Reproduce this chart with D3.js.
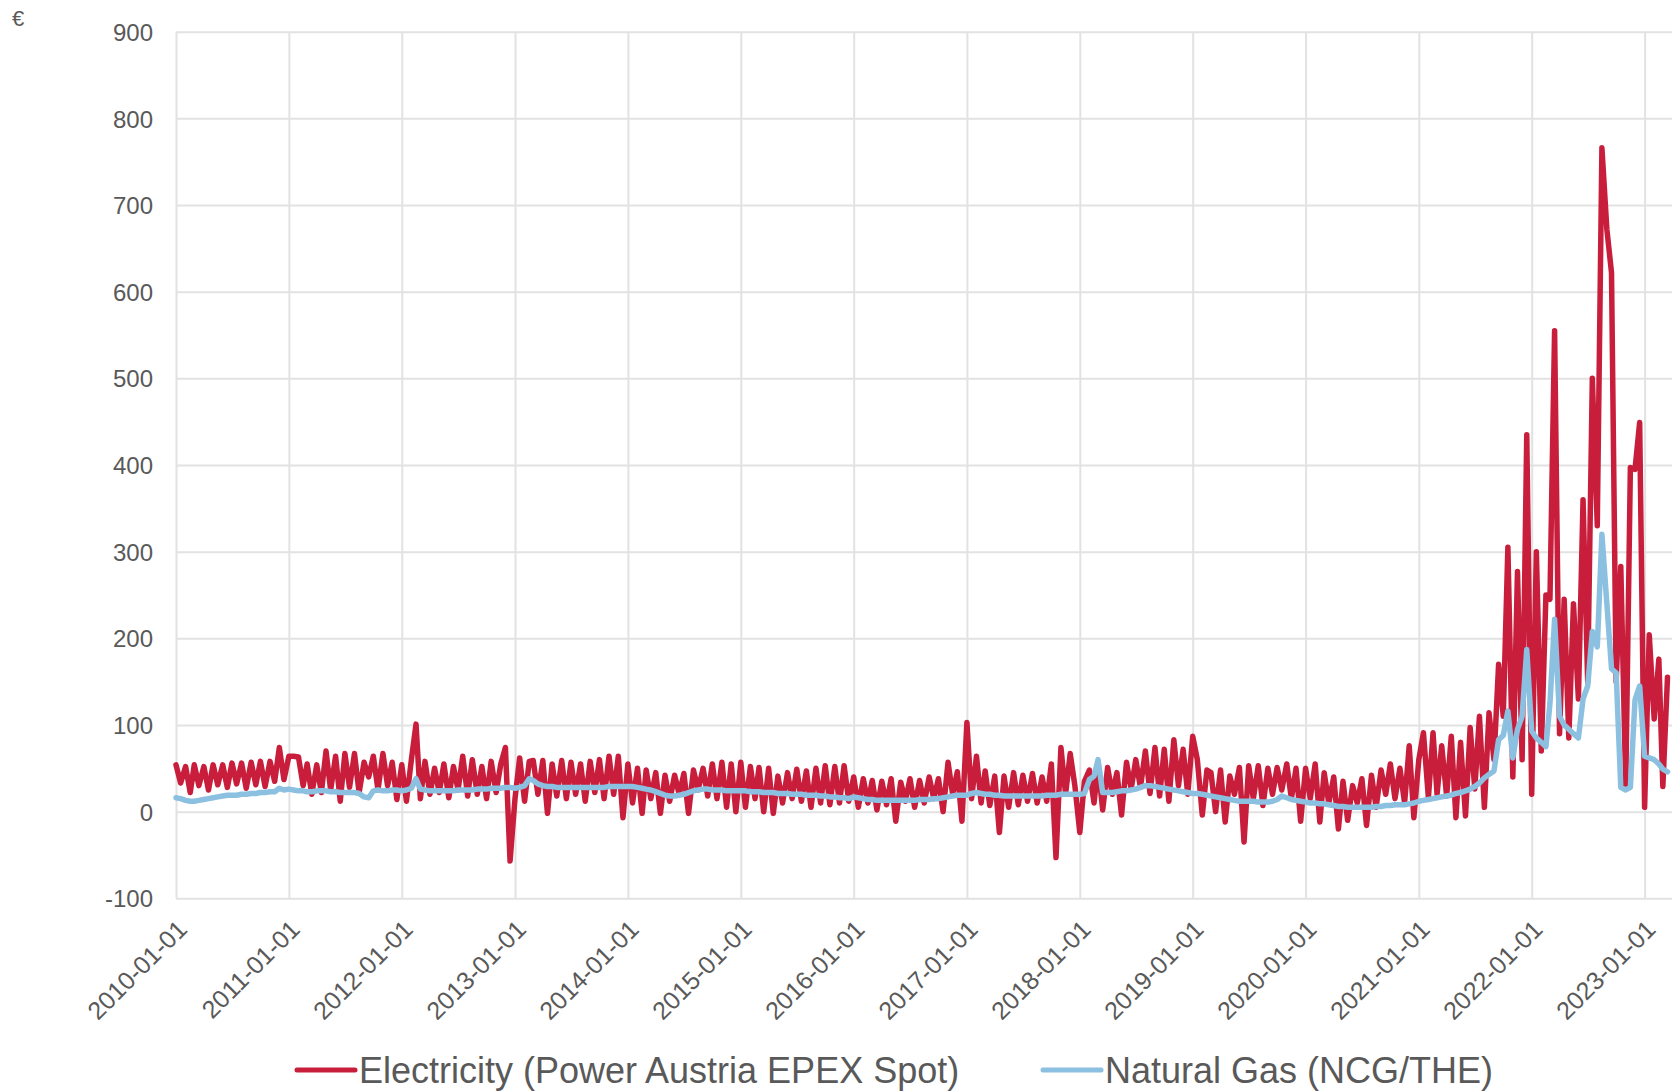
<!DOCTYPE html>
<html>
<head>
<meta charset="utf-8">
<script src="https://cdn.jsdelivr.net/npm/d3@7"></script>
<style>
    body { margin: 0; background: #ffffff; }
    svg { display: block; }
</style>
</head>
<body>
<svg width="1672" height="1091"></svg>
<script>
//Tick labels and series names
const yearTicks = ["2010-01-01", "2011-01-01", "2012-01-01", "2013-01-01", "2014-01-01", "2015-01-01", "2016-01-01",
                   "2017-01-01", "2018-01-01", "2019-01-01", "2020-01-01", "2021-01-01", "2022-01-01", "2023-01-01"];
const valueTicks = [-100, 0, 100, 200, 300, 400, 500, 600, 700, 800, 900];
const seriesNames = ["Electricity (Power Austria EPEX Spot)", "Natural Gas (NCG/THE)"];

//Electricity, two readings per month (1st and 16th)
const elec2010 = [54, 33, 52, 22, 54, 30, 52, 25, 54, 31, 54, 28, 56, 32, 56, 27, 57, 31, 58, 29, 58, 35, 74, 37];
const elec2011 = [64, 64, 63, 30, 55, 20, 54, 22, 70, 25, 64, 12, 67, 28, 67, 22, 57, 40, 64, 25, 67, 30, 57, 14];
const elec2012 = [54, 12, 60, 101, 15, 58, 20, 50, 22, 55, 16, 52, 25, 64, 18, 60, 20, 52, 15, 58, 22, 55, 74, -57];
const elec2013 = [15, 62, 12, 58, 59, 20, 59, -2, 55, 18, 59, 15, 57, 20, 55, 12, 58, 22, 60, 15, 64, 20, 64, -7];
const elec2014 = [55, 10, 50, -2, 48, 15, 45, -2, 42, 12, 42, 20, 44, -2, 48, 25, 50, 18, 55, 15, 57, 5, 55, 0];
const elec2015 = [57, 5, 52, 15, 51, 0, 50, -2, 41, 10, 45, 15, 49, 12, 47, 5, 50, 10, 53, 8, 52, 10, 53, 12];
const elec2016 = [40, 5, 38, 10, 36, 2, 35, 8, 38, -11, 34, 12, 38, 5, 36, 10, 40, 15, 38, 0, 57, 20, 46, -11];
const elec2017 = [103, 15, 64, 10, 47, 7, 41, -24, 41, 5, 45, 8, 42, 12, 44, 10, 40, 12, 55, -53, 74, 20, 67, 30];
const elec2018 = [-24, 35, 48, 10, 53, 2, 51, 20, 45, -4, 57, 26, 60, 28, 70, 21, 74, 18, 72, 12, 83, 30, 72, 20];
const elec2019 = [87, 60, -4, 48, 45, 0, 48, -12, 41, 20, 51, -35, 53, 15, 53, 7, 50, 20, 51, 25, 55, 15, 50, -11];
const elec2020 = [50, 15, 55, -12, 45, 10, 40, -20, 35, -10, 30, 10, 38, -16, 42, 5, 48, 20, 55, 15, 50, 10, 76, -7];
const elec2021 = [60, 91, 16, 91, 20, 76, 18, 87, -7, 80, -5, 97, 26, 110, 5, 114, 60, 170, 110, 305, 40, 277, 60, 435];
const elec2022 = [20, 300, 70, 250, 245, 555, 90, 245, 85, 240, 130, 360, 150, 500, 330, 766, 672, 622, 150, 283, 30, 397, 395, 449];
const elec2023 = [5, 204, 107, 176, 29, 155];

//Natural gas, same dates
const gas2010 = [16, 15, 13, 12, 12, 13, 14, 15, 16, 17, 18, 19, 19, 19, 20, 20, 21, 21, 22, 22, 23, 23, 27, 25];
const gas2011 = [26, 25, 24, 24, 23, 23, 24, 24, 24, 23, 23, 22, 22, 22, 22, 21, 17, 16, 24, 25, 24, 24, 25, 25];
const gas2012 = [24, 25, 27, 38, 26, 25, 24, 24, 24, 24, 24, 24, 25, 25, 25, 25, 26, 26, 26, 27, 27, 27, 28, 28];
const gas2013 = [27, 28, 30, 38, 36, 32, 30, 29, 29, 28, 28, 28, 28, 28, 28, 28, 28, 28, 28, 28, 29, 29, 29, 29];
const gas2014 = [29, 29, 28, 27, 26, 25, 23, 21, 19, 18, 18, 19, 20, 22, 24, 25, 26, 26, 25, 25, 25, 24, 24, 24];
const gas2015 = [24, 24, 23, 23, 23, 22, 22, 22, 21, 21, 21, 20, 20, 20, 19, 19, 19, 18, 18, 17, 17, 16, 16, 15];
const gas2016 = [17, 16, 15, 14, 14, 13, 13, 13, 13, 13, 13, 13, 13, 13, 14, 14, 14, 15, 15, 16, 17, 18, 19, 19];
const gas2017 = [19, 21, 22, 21, 20, 20, 19, 19, 18, 18, 18, 18, 18, 18, 18, 18, 18, 19, 19, 19, 20, 20, 20, 20];
const gas2018 = [20, 21, 37, 41, 60, 22, 22, 22, 23, 24, 24, 25, 26, 28, 30, 30, 29, 28, 27, 26, 25, 24, 23, 22];
const gas2019 = [21, 21, 20, 19, 18, 17, 16, 15, 14, 13, 12, 12, 12, 12, 11, 11, 11, 12, 14, 18, 16, 14, 13, 12];
const gas2020 = [11, 10, 10, 9, 9, 8, 7, 6, 6, 5, 5, 5, 5, 5, 5, 6, 6, 7, 7, 8, 8, 8, 9, 10];
const gas2021 = [12, 13, 14, 15, 16, 17, 18, 19, 21, 22, 24, 26, 29, 33, 39, 43, 47, 83, 88, 116, 62, 95, 110, 187];
const gas2022 = [93, 85, 80, 75, 125, 222, 110, 100, 95, 90, 85, 130, 145, 208, 190, 320, 240, 165, 160, 28, 25, 28, 129, 145];
const gas2023 = [64, 62, 60, 55, 49, 46];

buildGraph();

function buildGraph()
{
    //Variables
    const svg_width = 1672;
    const plot_left = 176;
    const plot_top = 31.7;
    const plot_bottom = 898.3;
    const font = "'Liberation Sans', Arial, sans-serif";
    const text_color = "#595959";
    const grid_color = "#e2e2e2";
    const colors = ["#c81e3c", "#8cc0e0"];

    //Dates: 1st and 16th of each month
    let periods = [];
    d3.utcMonth.range(new Date(Date.UTC(2010, 0, 1)), new Date(Date.UTC(2023, 3, 1))).forEach(function (m) {
        periods.push(m, d3.utcDay.offset(m, 15));
    });

    const electricity = [].concat(elec2010, elec2011, elec2012, elec2013, elec2014, elec2015, elec2016,
                                  elec2017, elec2018, elec2019, elec2020, elec2021, elec2022, elec2023);
    const gas = [].concat(gas2010, gas2011, gas2012, gas2013, gas2014, gas2015, gas2016,
                          gas2017, gas2018, gas2019, gas2020, gas2021, gas2022, gas2023);

    const series = [electricity, gas].map(function (values) {
        return periods.map(function (d, i) { return { date: d, value: values[i] }; });
    });

    let svg = d3.select("svg");
    const parseDay = d3.utcParse("%Y-%m-%d");

    //Setup x Scale and y Scale
    let xscale = d3.scaleUtc()
        .domain([parseDay(yearTicks[0]), parseDay(yearTicks[yearTicks.length - 1])])
        .range([plot_left, 1644.6]);

    let yscale = d3.scaleLinear().domain([-100, 900]).range([plot_bottom, plot_top]);

    //Draw Axes (gridlines come from the tick lines)
    let yaxis = d3.axisLeft(yscale)
        .tickValues(valueTicks)
        .tickFormat(function (v) { return String(v); })
        .tickSize(-(svg_width - plot_left))
        .tickPadding(23);

    let xaxis = d3.axisBottom(xscale)
        .tickValues(yearTicks.map(parseDay))
        .tickFormat(d3.utcFormat("%Y-%m-%d"))
        .tickSize(-(plot_bottom - plot_top));

    let gy = svg.append("g").attr("transform", "translate(" + plot_left + ", 0)").call(yaxis);
    let gx = svg.append("g").attr("transform", "translate(0, " + plot_bottom + ")").call(xaxis);

    [gx, gy].forEach(function (g) {
        g.select(".domain").remove();
        g.selectAll(".tick line").attr("stroke", grid_color).attr("stroke-width", 2);
        g.selectAll(".tick text")
            .attr("fill", text_color)
            .attr("font-family", font);
    });

    gy.selectAll(".tick text").attr("font-size", 24).attr("dy", "0.36em");

    gx.selectAll(".tick text")
        .attr("font-size", 25)
        .attr("x", null)
        .attr("y", null)
        .attr("dy", null)
        .attr("text-anchor", "end")
        .attr("transform", "translate(12, 32.5) rotate(-45)");

    //Unit label
    svg.append("text")
        .attr("x", 12)
        .attr("y", 26)
        .attr("font-family", font)
        .attr("font-size", 22)
        .attr("fill", text_color)
        .text("€");

    //Draw Lines
    let line = d3.line()
        .x(function (d) { return xscale(d.date); })
        .y(function (d) { return yscale(d.value); });

    svg.append("g")
        .selectAll("path")
        .data(series)
        .enter().append("path")
        .attr("d", line)
        .attr("fill", "none")
        .attr("stroke", function (d, i) { return colors[i]; })
        .attr("stroke-width", 5.5)
        .attr("stroke-linejoin", "round")
        .attr("stroke-linecap", "round");

    //Draw Legend
    const legend_x = [297, 1043];
    let legend = svg.append("g")
        .selectAll("g")
        .data(seriesNames)
        .enter().append("g")
        .attr("transform", function (d, i) { return "translate(" + legend_x[i] + ", 1070)"; });

    legend.append("line")
        .attr("x1", 0)
        .attr("x2", 58)
        .attr("stroke", function (d, i) { return colors[i]; })
        .attr("stroke-width", 5)
        .attr("stroke-linecap", "round");

    legend.append("text")
        .attr("x", 62)
        .attr("y", 13)
        .attr("font-family", font)
        .attr("font-size", 36)
        .attr("fill", text_color)
        .text(function (d) { return d; });
}
</script>
</body>
</html>
